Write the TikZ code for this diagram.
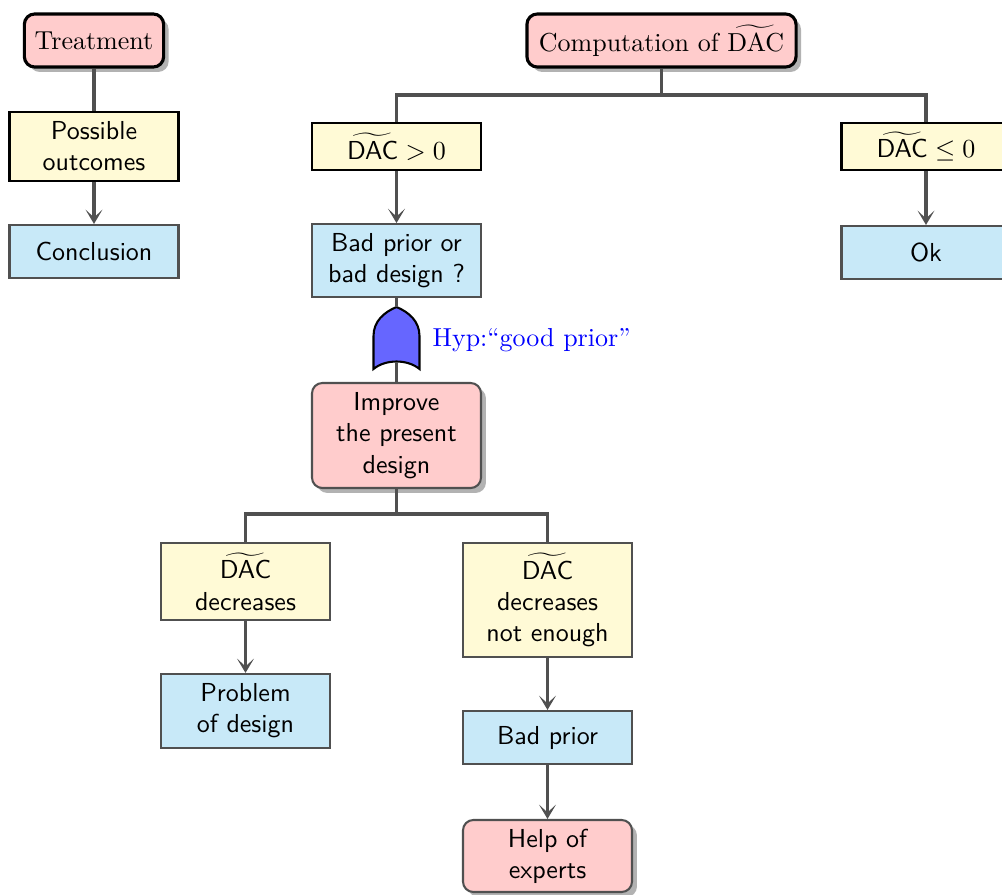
\documentclass[tikz,border=0pt]{standalone}
\usetikzlibrary{arrows.meta,shadows}
\definecolor{pinkf}{RGB}{255,204,204}
\definecolor{yelf}{RGB}{255,250,214}
\definecolor{bluef}{RGB}{200,233,248}
\definecolor{gatef}{RGB}{102,102,255}
\definecolor{linec}{RGB}{80,80,80}
\begin{document}
\begin{tikzpicture}[x=0.3846pt,y=-0.3846pt,
  base/.style={align=center,inner sep=2pt,font=\sffamily,minimum width=65pt},
  shad/.style={drop shadow={shadow xshift=1.9pt,shadow yshift=-1.9pt,fill=black!30,opacity=1}},
  topbox/.style={base,draw=black,fill=pinkf,very thick,rounded corners=4pt,shad,font=\rmfamily,minimum width=0pt,inner xsep=4pt},
  pinkbox/.style={base,draw=linec,fill=pinkf,thick,rounded corners=4pt,shad},
  yelbox/.style={base,draw=black,fill=yelf,thick},
  yelgbox/.style={base,draw=linec,fill=yelf,thick},
  bluebox/.style={base,draw=linec,fill=bluef,thick},
  conn/.style={draw=linec,very thick},
  arr/.style={conn,-{Stealth[length=5.5pt,width=6.5pt,inset=3pt]}}
]
\useasboundingbox (0,0) rectangle (1002,895);
% left legend
\node[topbox,minimum width=53pt,minimum height=20.4pt] (treat) at (94,40.5) {Treatment};
\node[yelbox,minimum height=26.5pt] (poss) at (94,146.5) {Possible\\outcomes};
\node[bluebox,minimum height=20.4pt] (concl) at (94,251.5) {Conclusion};
% main tree
\node[topbox,minimum width=103.5pt,minimum height=20.4pt] (comp) at (661.5,40.5) {Computation of $\widetilde{\mathrm{DAC}}$};
\node[yelbox,minimum height=18pt] (dpos) at (396.5,146.5) {$\widetilde{\mathsf{DAC}}>0$};
\node[yelbox,minimum height=18pt] (dneg) at (926,146.5) {$\widetilde{\mathsf{DAC}}\leq0$};
\node[bluebox,minimum height=28pt] (badq) at (396.5,260.5) {Bad prior or\\bad design ?};
\node[bluebox,minimum height=20.4pt] (ok) at (926,252.5) {Ok};
\node[pinkbox,minimum height=40.4pt] (impr) at (396.5,435.5) {Improve\\the present\\design};
\node[yelgbox,minimum height=29.6pt] (ddec) at (245.5,581.5) {$\widetilde{\mathsf{DAC}}$\\decreases};
\node[yelgbox,minimum height=43.8pt] (dnot) at (547.5,600) {$\widetilde{\mathsf{DAC}}$\\decreases\\not enough};
\node[bluebox,minimum height=28.5pt] (prob) at (245.5,711) {Problem\\of design};
\node[bluebox,minimum height=20.4pt] (badp) at (547.5,737.5) {Bad prior};
\node[pinkbox,minimum height=27.7pt] (help) at (547.5,856) {Help of\\experts};
% gate
\coordinate (gtop) at (396.5,307);
\coordinate (gbot) at (396.5,362);
\draw[fill=gatef,draw=black,thick] (373.5,369) -- (373.5,336)
  .. controls (373.5,321) and (384.5,312) .. (gtop)
  .. controls (408.5,312) and (419.5,321) .. (419.5,336)
  -- (419.5,369) .. controls (407.5,359) and (385.5,359) .. cycle;
\node[anchor=west,text=blue,inner sep=0pt] (hyp) at (432,340) {Hyp:``good prior''};
% buses
\coordinate (bus1) at (661.5,95);
\coordinate (bus2) at (396.5,514);
% connectors
\draw[conn] (treat) -- (poss);
\draw[arr] (poss) -- (concl);
\draw[conn] (comp) -- (bus1) -| (dpos);
\draw[conn] (bus1) -| (dneg);
\draw[arr] (dpos) -- (badq);
\draw[arr] (dneg) -- (ok);
\draw[conn] (badq) -- (gtop);
\draw[conn] (gbot) -- (impr);
\draw[conn] (impr) -- (bus2) -| (ddec);
\draw[conn] (bus2) -| (dnot);
\draw[arr] (ddec) -- (prob);
\draw[arr] (dnot) -- (badp);
\draw[arr] (badp) -- (help);
\end{tikzpicture}
\end{document}
